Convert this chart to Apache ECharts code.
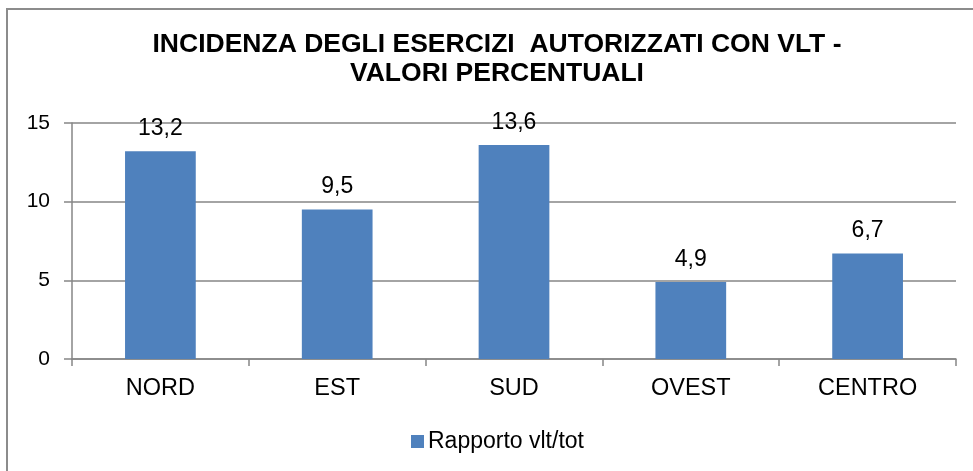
<!DOCTYPE html>
<html>
<head>
<meta charset="utf-8">
<script src="https://cdn.jsdelivr.net/npm/echarts@6/dist/echarts.min.js"></script>
<style>
  html, body { margin: 0; padding: 0; background: #fff; }
  #chart-container { width: 973px; height: 471px; }
</style>
</head>
<body>
<div id="chart-container"></div>
<script>
// chart data
const categories = ['NORD', 'EST', 'SUD', 'OVEST', 'CENTRO'];
const seriesName = 'Rapporto vlt/tot';
const values = [13.2, 9.5, 13.6, 4.9, 6.7];
const yTicks = { min: 0, max: 15, interval: 5 };

const barColor = '#4F81BD';
const gridColor = '#868686';
const font = 'Liberation Sans, Arial, sans-serif';

var dom = document.getElementById('chart-container');
var myChart = echarts.init(dom, null, { renderer: 'canvas' });

var option = {
   animation: false,
   title: {
      text: 'INCIDENZA DEGLI ESERCIZI  AUTORIZZATI CON VLT -\nVALORI PERCENTUALI',
      left: 497,
      top: 30,
      padding: 0,
      textAlign: 'center',
      textStyle: {
         fontFamily: font,
         fontSize: 26.5,
         fontWeight: 'bold',
         color: '#000',
         lineHeight: 29
      }
   },
   graphic: [
      {
         // chart frame (only top and left edges visible)
         type: 'rect',
         shape: { x: 7, y: 9, width: 1200, height: 800 },
         style: { fill: 'none', stroke: '#8c8c8c', lineWidth: 2 },
         silent: true
      }
   ],
   legend: {
      data: [seriesName],
      left: 411,
      top: 430,
      padding: 0,
      itemWidth: 13,
      itemHeight: 13,
      itemGap: 4,
      icon: 'rect',
      textStyle: { fontFamily: font, fontSize: 23, color: '#000', lineHeight: 23, padding: [0, 0, 0, -1] }
   },
   grid: { left: 72, right: 17, top: 123, bottom: 112 },
   xAxis: {
      type: 'category',
      data: categories,
      axisLine: { lineStyle: { color: gridColor, width: 1.5 } },
      axisTick: { show: true, length: 7, lineStyle: { color: gridColor, width: 1.5 } },
      axisLabel: { fontFamily: font, fontSize: 23.5, color: '#000', margin: 18 }
   },
   yAxis: {
      type: 'value',
      min: yTicks.min,
      max: yTicks.max,
      interval: yTicks.interval,
      axisLine: { show: true, lineStyle: { color: gridColor, width: 1.5 } },
      axisTick: { show: true, length: 8, lineStyle: { color: gridColor, width: 1.5 } },
      splitLine: { lineStyle: { color: gridColor, width: 1.5 } },
      axisLabel: { fontFamily: font, fontSize: 21, color: '#000', margin: 22 }
   },
   series: [
      {
         name: seriesName,
         type: 'bar',
         data: values,
         barWidth: '40%',
         itemStyle: { color: barColor },
         label: {
            show: true,
            position: 'top',
            distance: 11,
            fontFamily: font,
            fontSize: 23,
            color: '#000',
            formatter: p => String(p.value).replace('.', ',')
         }
      }
   ]
};

myChart.setOption(option);
</script>
</body>
</html>
